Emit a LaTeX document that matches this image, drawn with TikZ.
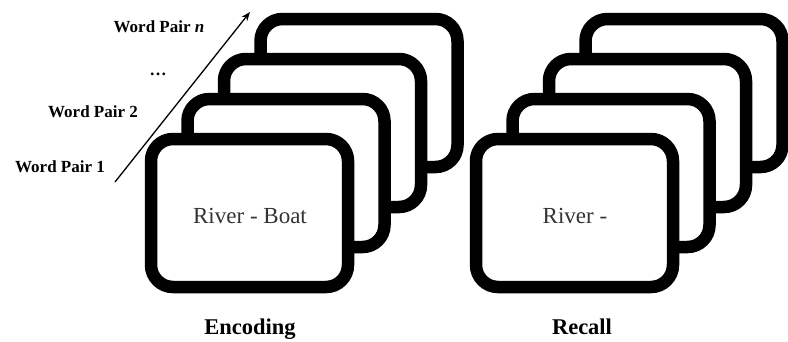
\documentclass[tikz,border=0pt]{standalone}
\usepackage{fontspec}
\setmainfont{Liberation Serif}
\usetikzlibrary{arrows.meta}
\begin{document}
\begin{tikzpicture}[x=1pt,y=-1pt,
  card/.style={draw=black,fill=white,line width=12.5pt,rounded corners=22pt},
  cardtext/.style={anchor=base,font=\fontsize{23}{27}\selectfont,text=black!80},
  caption/.style={anchor=base,font=\fontsize{22.5}{27}\selectfont\bfseries},
  pairlabel/.style={anchor=base,font=\fontsize{17}{20}\selectfont\bfseries},
  seqarrow/.style={line width=1.3pt,-{Stealth[length=9pt,width=7pt]}}]
\useasboundingbox (0,0) rectangle (788,341);
% Encoding stack (back to front)
\foreach \i in {3,2,1,0}{
  \draw[card] ({151+36.5*\i},{139-40*\i}) rectangle ({348+36.5*\i},{287-40*\i});
}
% Recall stack (back to front)
\foreach \i in {3,2,1,0}{
  \draw[card] ({476+36.5*\i},{139-40*\i}) rectangle ({673+36.5*\i},{287-40*\i});
}
\node[cardtext] (enctext) at (250,223) {River - Boat};
\node[cardtext] (rectext) at (575,223) {River -};
\node[caption] (enc) at (250,334) {Encoding};
\node[caption] (rec) at (582,334) {Recall};
\node[pairlabel] (wp1) at (60,172) {Word Pair 1};
\node[pairlabel] (wp2) at (93,117) {Word Pair 2};
\node[pairlabel] (dots) at (158,75) {…};
\node[pairlabel] (wpn) at (159,32) {Word Pair \textit{n}};
\coordinate (astart) at (115,182);
\coordinate (aend) at (250,12);
\draw[seqarrow] (astart) -- (aend);
\end{tikzpicture}
\end{document}
